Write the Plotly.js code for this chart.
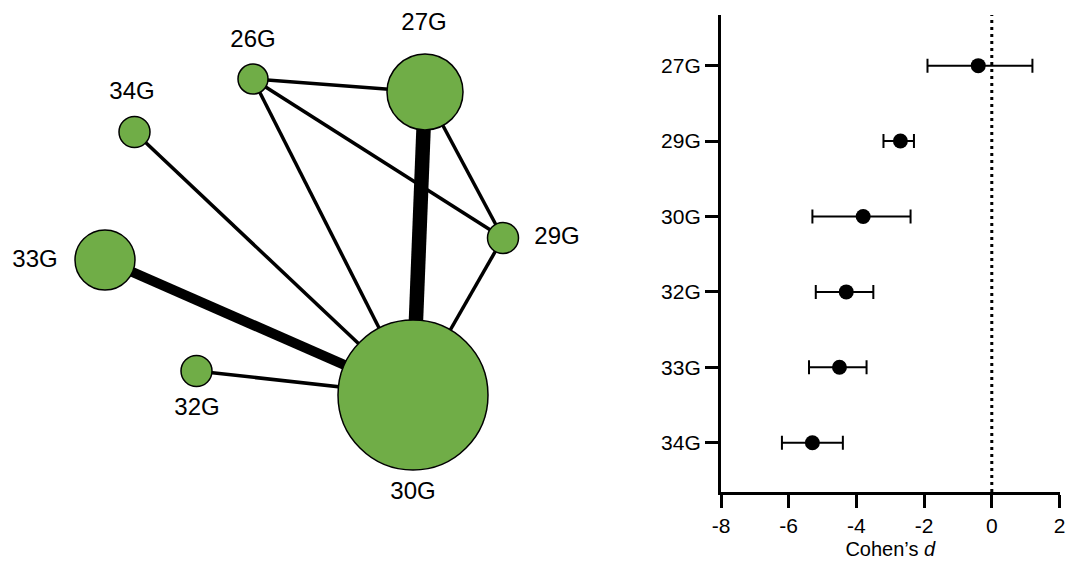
<!DOCTYPE html>
<html>
<head>
<meta charset="utf-8">
<script src="https://cdn.plot.ly/plotly-3.0.1.min.js"></script>
<style>html,body{margin:0;padding:0;background:#fff}#chart{width:1067px;height:562px}</style>
</head>
<body>
<div id="chart"></div>
<script>
// ---- Forest plot data ----
const groups = ["27G", "29G", "30G", "32G", "33G", "34G"];
const cohenD = [-0.4, -2.7, -3.8, -4.3, -4.5, -5.3];
const ciLow  = [-1.9, -3.2, -5.3, -5.2, -5.4, -6.2];
const ciHigh = [ 1.2, -2.3, -2.4, -3.5, -3.7, -4.4];
const xTicks = [-8, -6, -4, -2, 0, 2];

// ---- Network data ----
const nodes    = ["26G", "27G", "34G", "33G", "29G", "32G", "30G"];
const nodeSize = [30, 76, 31, 60, 31, 31, 150];
const nodeX    = [253, 425, 134.5, 105, 503, 196.5, 413];
const nodeY    = [79, 92, 132, 260, 238, 371, 395];
const labelX   = [253, 424, 132, 35, 557, 197, 413];
const labelY   = [41, 24, 93, 261, 238, 409, 493];
const edgeFrom  = ["26G", "26G", "26G", "27G", "27G", "29G", "34G", "33G", "32G"];
const edgeTo    = ["27G", "29G", "30G", "30G", "29G", "30G", "30G", "30G", "30G"];
const edgeWidth = [3.5, 3.5, 3.5, 14.5, 3.5, 3.5, 3.5, 10, 3.5];

const FONT = "Liberation Sans, Arial, Helvetica, sans-serif";
const GREEN = "#70AD47";

const traces = [];
const idx = n => nodes.indexOf(n);
for (let i = 0; i < edgeFrom.length; i++) {
  const a = idx(edgeFrom[i]), b = idx(edgeTo[i]);
  traces.push({
    type: "scatter", mode: "lines", xaxis: "x2", yaxis: "y2",
    x: [nodeX[a], nodeX[b]], y: [nodeY[a], nodeY[b]],
    line: {color: "#000", width: edgeWidth[i]},
    hoverinfo: "skip", showlegend: false
  });
}
traces.push({
  type: "scatter", mode: "markers", xaxis: "x2", yaxis: "y2",
  x: nodeX, y: nodeY, text: nodes,
  marker: {size: nodeSize, color: GREEN, opacity: 1, line: {color: "#000", width: 1.5}},
  hoverinfo: "text", showlegend: false
});
traces.push({
  type: "scatter", mode: "text", xaxis: "x2", yaxis: "y2",
  x: labelX, y: labelY, text: nodes,
  textposition: "middle center",
  textfont: {family: FONT, size: 24, color: "#000"},
  hoverinfo: "skip", showlegend: false
});

// forest plot
const yIdx = groups.map((g, i) => i);
traces.push({
  type: "scatter", mode: "markers", xaxis: "x", yaxis: "y",
  x: cohenD, y: yIdx,
  error_x: {
    type: "data", symmetric: false,
    array: ciHigh.map((h, i) => h - cohenD[i]),
    arrayminus: cohenD.map((d, i) => d - ciLow[i]),
    color: "#000", thickness: 2, width: 7
  },
  marker: {size: 15, color: "#000"},
  showlegend: false
});

const layout = {
  width: 1067, height: 562,
  margin: {l: 0, r: 0, t: 0, b: 0},
  paper_bgcolor: "#fff", plot_bgcolor: "rgba(0,0,0,0)",
  font: {family: FONT, size: 21, color: "#000"},
  showlegend: false,
  xaxis: {
    domain: [721 / 1067, 1059.5 / 1067], anchor: "y",
    range: [-8, 2], tickvals: xTicks, ticktext: xTicks.map(String),
    showgrid: false, zeroline: false,
    showline: true, linecolor: "#000", linewidth: 3,
    ticks: "outside", ticklen: 13, tickwidth: 3, tickcolor: "#000",
    ticklabeloverflow: "allow",
    tickfont: {family: FONT, size: 21, color: "#000"},
    title: {text: "Cohen’s <i>d</i>", font: {family: FONT, size: 20, color: "#000"}, standoff: 6}
  },
  yaxis: {
    domain: [1 - 492 / 562, 1 - 15 / 562], anchor: "x",
    range: [5.654, -0.672], tickvals: yIdx, ticktext: groups,
    showgrid: false, zeroline: false,
    showline: true, linecolor: "#000", linewidth: 3,
    ticks: "outside", ticklen: 13, tickwidth: 3, tickcolor: "#000",
    ticklabeloverflow: "allow",
    tickfont: {family: FONT, size: 21, color: "#000"}
  },
  xaxis2: {domain: [0, 1], range: [0, 1067], anchor: "y2", visible: false, fixedrange: true},
  yaxis2: {domain: [0, 1], range: [562, 0], anchor: "x2", visible: false, fixedrange: true},
  shapes: [{
    type: "line", xref: "x", yref: "y domain",
    x0: 0, x1: 0, y0: 0, y1: 1,
    line: {color: "#000", width: 3, dash: "3px,4px"}
  }]
};

Plotly.newPlot("chart", traces, layout, {displayModeBar: false, staticPlot: true});
</script>
</body>
</html>
